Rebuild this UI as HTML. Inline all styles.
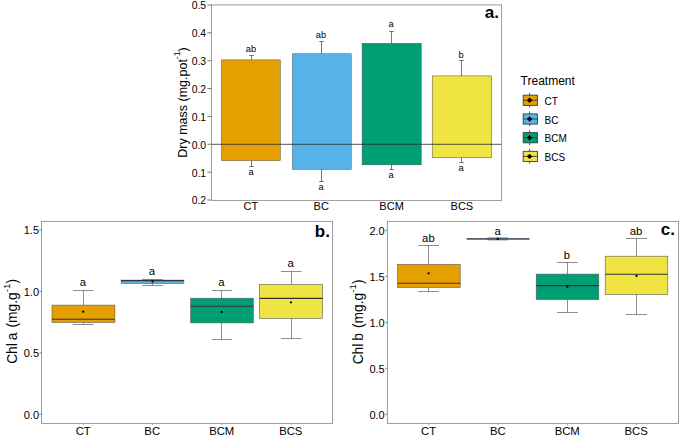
<!DOCTYPE html>
<html><head><meta charset="utf-8"><title>Figure</title>
<style>html,body{margin:0;padding:0;background:#fff;}svg{display:block;}text{font-family:"Liberation Sans",sans-serif;fill:#000;}</style></head>
<body>
<svg width="685" height="436" viewBox="0 0 685 436">
<rect x="0" y="0" width="685" height="436" fill="#ffffff"/>
<g id="panel-a">
<path d="M251.5 55.5V166.5M249.2 55.5H253.8M249.2 166.5H253.8" stroke="#3f3f3f" stroke-width="0.7" fill="none"/>
<rect x="221.5" y="59.9" width="58.8" height="100.7" fill="#E69F00" stroke="#4d4d4d" stroke-width="0.5"/>
<text x="251.0" y="52.2" font-size="9.3" text-anchor="middle">ab</text>
<text x="251.0" y="175.1" font-size="9.3" text-anchor="middle">a</text>
<text x="250.9" y="210.2" font-size="11" text-anchor="middle">CT</text>
<path d="M321.5 41.5V181.5M319.2 41.5H323.8M319.2 181.5H323.8" stroke="#3f3f3f" stroke-width="0.7" fill="none"/>
<rect x="292.4" y="53.8" width="58.8" height="115.5" fill="#56B4E9" stroke="#4d4d4d" stroke-width="0.5"/>
<text x="321.0" y="38.2" font-size="9.3" text-anchor="middle">ab</text>
<text x="321.0" y="189.8" font-size="9.3" text-anchor="middle">a</text>
<text x="321.2" y="210.2" font-size="11" text-anchor="middle">BC</text>
<path d="M391.5 31.5V169.5M389.2 31.5H393.8M389.2 169.5H393.8" stroke="#3f3f3f" stroke-width="0.7" fill="none"/>
<rect x="362.1" y="43.4" width="59.1" height="121.4" fill="#009E73" stroke="#4d4d4d" stroke-width="0.5"/>
<text x="391.0" y="27.0" font-size="9.3" text-anchor="middle">a</text>
<text x="391.0" y="178.2" font-size="9.3" text-anchor="middle">a</text>
<text x="391.6" y="210.2" font-size="11" text-anchor="middle">BCM</text>
<path d="M461.5 60.5V162.5M459.2 60.5H463.8M459.2 162.5H463.8" stroke="#3f3f3f" stroke-width="0.7" fill="none"/>
<rect x="432.2" y="75.9" width="59.4" height="81.9" fill="#F0E442" stroke="#4d4d4d" stroke-width="0.5"/>
<text x="461.0" y="57.9" font-size="9.3" text-anchor="middle">b</text>
<text x="461.0" y="171.0" font-size="9.3" text-anchor="middle">a</text>
<text x="461.9" y="210.2" font-size="11" text-anchor="middle">BCS</text>
<line x1="211.4" x2="501.6" y1="144.3" y2="144.3" stroke="#2a2a2a" stroke-width="0.8"/>
<rect x="211.4" y="4.9" width="290.2" height="195.5" fill="none" stroke="#929292" stroke-width="0.9"/>
<line x1="207.4" x2="211.4" y1="5.00" y2="5.00" stroke="#555" stroke-width="0.8"/>
<text x="206.1" y="9.45" font-size="10.4" text-anchor="end">0.5</text>
<line x1="207.4" x2="211.4" y1="32.86" y2="32.86" stroke="#555" stroke-width="0.8"/>
<text x="206.1" y="37.31" font-size="10.4" text-anchor="end">0.4</text>
<line x1="207.4" x2="211.4" y1="60.71" y2="60.71" stroke="#555" stroke-width="0.8"/>
<text x="206.1" y="65.16" font-size="10.4" text-anchor="end">0.3</text>
<line x1="207.4" x2="211.4" y1="88.57" y2="88.57" stroke="#555" stroke-width="0.8"/>
<text x="206.1" y="93.02" font-size="10.4" text-anchor="end">0.2</text>
<line x1="207.4" x2="211.4" y1="116.43" y2="116.43" stroke="#555" stroke-width="0.8"/>
<text x="206.1" y="120.88" font-size="10.4" text-anchor="end">0.1</text>
<line x1="207.4" x2="211.4" y1="144.28" y2="144.28" stroke="#555" stroke-width="0.8"/>
<text x="206.1" y="148.73" font-size="10.4" text-anchor="end">0.0</text>
<line x1="207.4" x2="211.4" y1="172.14" y2="172.14" stroke="#555" stroke-width="0.8"/>
<text x="206.1" y="176.59" font-size="10.4" text-anchor="end">0.1</text>
<line x1="207.4" x2="211.4" y1="200.00" y2="200.00" stroke="#555" stroke-width="0.8"/>
<text x="206.1" y="204.45" font-size="10.4" text-anchor="end">0.2</text>
<text transform="translate(186.8,102.5) rotate(-90)" font-size="12.5" text-anchor="middle">Dry mass (mg.pot<tspan font-size="8.7" dy="-6.6">-1</tspan><tspan dy="6.6">)</tspan></text>
<text x="498.9" y="18.2" font-size="17" font-weight="bold" text-anchor="end">a.</text>
</g>
<g id="legend">
<text x="520.6" y="84.6" font-size="12">Treatment</text>
<line x1="529.6" x2="529.6" y1="92.90" y2="107.50" stroke="#3a3a3a" stroke-width="0.9"/>
<rect x="523.2" y="95.20" width="14.2" height="10.2" fill="#E69F00" stroke="#3a3a3a" stroke-width="0.9"/>
<line x1="523.2" x2="537.4" y1="100.30" y2="100.30" stroke="#3a3a3a" stroke-width="0.9"/>
<path d="M526.9 100.30L529.6 97.60L532.3 100.30L529.6 103.00Z" fill="#000"/>
<text x="544.5" y="104.90" font-size="10.05">CT</text>
<line x1="529.6" x2="529.6" y1="111.60" y2="126.20" stroke="#3a3a3a" stroke-width="0.9"/>
<rect x="523.2" y="113.90" width="14.2" height="10.2" fill="#56B4E9" stroke="#3a3a3a" stroke-width="0.9"/>
<line x1="523.2" x2="537.4" y1="119.00" y2="119.00" stroke="#3a3a3a" stroke-width="0.9"/>
<path d="M526.9 119.00L529.6 116.30L532.3 119.00L529.6 121.70Z" fill="#000"/>
<text x="544.5" y="123.60" font-size="10.05">BC</text>
<line x1="529.6" x2="529.6" y1="130.30" y2="144.90" stroke="#3a3a3a" stroke-width="0.9"/>
<rect x="523.2" y="132.60" width="14.2" height="10.2" fill="#009E73" stroke="#3a3a3a" stroke-width="0.9"/>
<line x1="523.2" x2="537.4" y1="137.70" y2="137.70" stroke="#3a3a3a" stroke-width="0.9"/>
<path d="M526.9 137.70L529.6 135.00L532.3 137.70L529.6 140.40Z" fill="#000"/>
<text x="544.5" y="142.30" font-size="10.05">BCM</text>
<line x1="529.6" x2="529.6" y1="149.00" y2="163.60" stroke="#3a3a3a" stroke-width="0.9"/>
<rect x="523.2" y="151.30" width="14.2" height="10.2" fill="#F0E442" stroke="#3a3a3a" stroke-width="0.9"/>
<line x1="523.2" x2="537.4" y1="156.40" y2="156.40" stroke="#3a3a3a" stroke-width="0.9"/>
<path d="M526.9 156.40L529.6 153.70L532.3 156.40L529.6 159.10Z" fill="#000"/>
<text x="544.5" y="161.00" font-size="10.05">BCS</text>
</g>
<g id="panel-b">
<path d="M83.5 290.5V305.1M83.5 322.4V324.5M72.8 290.5H93.6M72.8 324.5H93.6" stroke="#505050" stroke-width="0.65" fill="none"/>
<rect x="52.0" y="305.1" width="62.9" height="17.3" fill="#E69F00" stroke="#5a5a5a" stroke-width="0.6"/>
<line x1="52.0" x2="114.9" y1="319.3" y2="319.3" stroke="#333" stroke-width="1.1"/>
<circle cx="83.2" cy="311.7" r="1.15" fill="#000"/>
<text x="83.0" y="286.2" font-size="11.3" text-anchor="middle">a</text>
<text x="83.2" y="434.8" font-size="11.3" text-anchor="middle">CT</text>
<line x1="83.5" x2="83.5" y1="423.4" y2="425.0" stroke="#777" stroke-width="0.7"/>
<path d="M152.5 279.5V280.1M152.5 283.4V285.5M142.1 279.5H162.9M142.1 285.5H162.9" stroke="#505050" stroke-width="0.65" fill="none"/>
<rect x="121.1" y="280.1" width="62.8" height="3.3" fill="#56B4E9" stroke="#5a5a5a" stroke-width="0.6"/>
<line x1="121.1" x2="183.9" y1="280.6" y2="280.6" stroke="#333" stroke-width="1.1"/>
<circle cx="152.5" cy="281.6" r="1.15" fill="#000"/>
<text x="152.0" y="274.8" font-size="11.3" text-anchor="middle">a</text>
<text x="152.2" y="434.8" font-size="11.3" text-anchor="middle">BC</text>
<line x1="152.5" x2="152.5" y1="423.4" y2="425.0" stroke="#777" stroke-width="0.7"/>
<path d="M221.5 290.5V298.2M221.5 322.9V339.5M211.8 290.5H232.0M211.8 339.5H232.0" stroke="#505050" stroke-width="0.65" fill="none"/>
<rect x="190.7" y="298.2" width="62.6" height="24.7" fill="#009E73" stroke="#5a5a5a" stroke-width="0.6"/>
<line x1="190.7" x2="253.3" y1="306.2" y2="306.2" stroke="#333" stroke-width="1.1"/>
<circle cx="221.7" cy="311.9" r="1.15" fill="#000"/>
<text x="221.5" y="285.9" font-size="11.3" text-anchor="middle">a</text>
<text x="221.7" y="434.8" font-size="11.3" text-anchor="middle">BCM</text>
<line x1="222.0" x2="222.0" y1="423.4" y2="425.0" stroke="#777" stroke-width="0.7"/>
<path d="M291.5 271.5V284.4M291.5 318.3V338.5M280.9 271.5H301.5M280.9 338.5H301.5" stroke="#505050" stroke-width="0.65" fill="none"/>
<rect x="259.5" y="284.4" width="63.1" height="33.9" fill="#F0E442" stroke="#5a5a5a" stroke-width="0.6"/>
<line x1="259.5" x2="322.6" y1="298.4" y2="298.4" stroke="#333" stroke-width="1.1"/>
<circle cx="291.0" cy="302.3" r="1.15" fill="#000"/>
<text x="290.6" y="266.6" font-size="11.3" text-anchor="middle">a</text>
<text x="290.8" y="434.8" font-size="11.3" text-anchor="middle">BCS</text>
<line x1="291.1" x2="291.1" y1="423.4" y2="425.0" stroke="#777" stroke-width="0.7"/>
<rect x="41.5" y="221.4" width="291.1" height="202.0" fill="none" stroke="#929292" stroke-width="0.9"/>
<line x1="39.3" x2="41.5" y1="230.00" y2="230.00" stroke="#666" stroke-width="0.8"/>
<text x="39.0" y="234.40" font-size="11" text-anchor="end">1.5</text>
<line x1="39.3" x2="41.5" y1="291.40" y2="291.40" stroke="#666" stroke-width="0.8"/>
<text x="39.0" y="295.80" font-size="11" text-anchor="end">1.0</text>
<line x1="39.3" x2="41.5" y1="352.90" y2="352.90" stroke="#666" stroke-width="0.8"/>
<text x="39.0" y="357.30" font-size="11" text-anchor="end">0.5</text>
<line x1="39.3" x2="41.5" y1="414.30" y2="414.30" stroke="#666" stroke-width="0.8"/>
<text x="39.0" y="418.70" font-size="11" text-anchor="end">0.0</text>
<text transform="translate(17.2,321.4) rotate(-90)" font-size="13.8" text-anchor="middle" xml:space="preserve">Chl<tspan dx="-0.9"> a</tspan><tspan dx="1.2"> (mg.g</tspan><tspan font-size="9.8" dy="-7.2">-1</tspan><tspan dy="7.2">)</tspan></text>
<text x="329.9" y="236.8" font-size="17" font-weight="bold" text-anchor="end">b.</text>
</g>
<g id="panel-c">
<path d="M428.5 245.5V264.3M428.5 287.5V291.5M418.3 245.5H438.9M418.3 291.5H438.9" stroke="#505050" stroke-width="0.65" fill="none"/>
<rect x="397.6" y="264.3" width="62.6" height="23.2" fill="#E69F00" stroke="#5a5a5a" stroke-width="0.6"/>
<line x1="397.6" x2="460.2" y1="283.3" y2="283.3" stroke="#333" stroke-width="1.1"/>
<circle cx="428.6" cy="273.3" r="1.15" fill="#000"/>
<text x="428.4" y="242.4" font-size="11.3" text-anchor="middle">ab</text>
<text x="428.6" y="434.8" font-size="11.3" text-anchor="middle">CT</text>
<line x1="428.9" x2="428.9" y1="423.4" y2="425.0" stroke="#777" stroke-width="0.7"/>
<rect x="487.4" y="237.40" width="20.8" height="3" fill="#8a8a8a"/>
<rect x="466.6" y="238.05" width="62.9" height="1.7" fill="#4a5a66"/>
<circle cx="497.8" cy="238.9" r="1.15" fill="#000"/>
<text x="497.6" y="234.6" font-size="11.3" text-anchor="middle">a</text>
<text x="497.8" y="434.8" font-size="11.3" text-anchor="middle">BC</text>
<line x1="498.1" x2="498.1" y1="423.4" y2="425.0" stroke="#777" stroke-width="0.7"/>
<path d="M567.5 262.5V274.1M567.5 299.5V312.5M557.1 262.5H577.7M557.1 312.5H577.7" stroke="#505050" stroke-width="0.65" fill="none"/>
<rect x="536.2" y="274.1" width="62.6" height="25.4" fill="#009E73" stroke="#5a5a5a" stroke-width="0.6"/>
<line x1="536.2" x2="598.8" y1="285.6" y2="285.6" stroke="#333" stroke-width="1.1"/>
<circle cx="567.3" cy="286.7" r="1.15" fill="#000"/>
<text x="567.0" y="259.3" font-size="11.3" text-anchor="middle">b</text>
<text x="567.2" y="434.8" font-size="11.3" text-anchor="middle">BCM</text>
<line x1="567.5" x2="567.5" y1="423.4" y2="425.0" stroke="#777" stroke-width="0.7"/>
<path d="M636.5 238.5V256.2M636.5 294.5V314.5M625.9 238.5H647.0M625.9 314.5H647.0" stroke="#505050" stroke-width="0.65" fill="none"/>
<rect x="605.2" y="256.2" width="62.6" height="38.3" fill="#F0E442" stroke="#5a5a5a" stroke-width="0.6"/>
<line x1="605.2" x2="667.8" y1="274.3" y2="274.3" stroke="#333" stroke-width="1.1"/>
<circle cx="636.5" cy="275.9" r="1.15" fill="#000"/>
<text x="636.0" y="235.3" font-size="11.3" text-anchor="middle">ab</text>
<text x="636.2" y="434.8" font-size="11.3" text-anchor="middle">BCS</text>
<line x1="636.5" x2="636.5" y1="423.4" y2="425.0" stroke="#777" stroke-width="0.7"/>
<rect x="387.4" y="221.4" width="291.1" height="202.0" fill="none" stroke="#929292" stroke-width="0.9"/>
<line x1="385.2" x2="387.4" y1="230.40" y2="230.40" stroke="#666" stroke-width="0.8"/>
<text x="384.7" y="234.80" font-size="11" text-anchor="end">2.0</text>
<line x1="385.2" x2="387.4" y1="276.40" y2="276.40" stroke="#666" stroke-width="0.8"/>
<text x="384.7" y="280.80" font-size="11" text-anchor="end">1.5</text>
<line x1="385.2" x2="387.4" y1="322.35" y2="322.35" stroke="#666" stroke-width="0.8"/>
<text x="384.7" y="326.75" font-size="11" text-anchor="end">1.0</text>
<line x1="385.2" x2="387.4" y1="368.30" y2="368.30" stroke="#666" stroke-width="0.8"/>
<text x="384.7" y="372.70" font-size="11" text-anchor="end">0.5</text>
<line x1="385.2" x2="387.4" y1="414.30" y2="414.30" stroke="#666" stroke-width="0.8"/>
<text x="384.7" y="418.70" font-size="11" text-anchor="end">0.0</text>
<text transform="translate(363.2,321.9) rotate(-90)" font-size="13.8" text-anchor="middle" xml:space="preserve">Chl<tspan dx="-0.9"> b</tspan><tspan dx="1.2"> (mg.g</tspan><tspan font-size="9.8" dy="-7.2">-1</tspan><tspan dy="7.2">)</tspan></text>
<text x="675.0" y="234.8" font-size="17" font-weight="bold" text-anchor="end">c.</text>
</g>
</svg>
</body></html>
